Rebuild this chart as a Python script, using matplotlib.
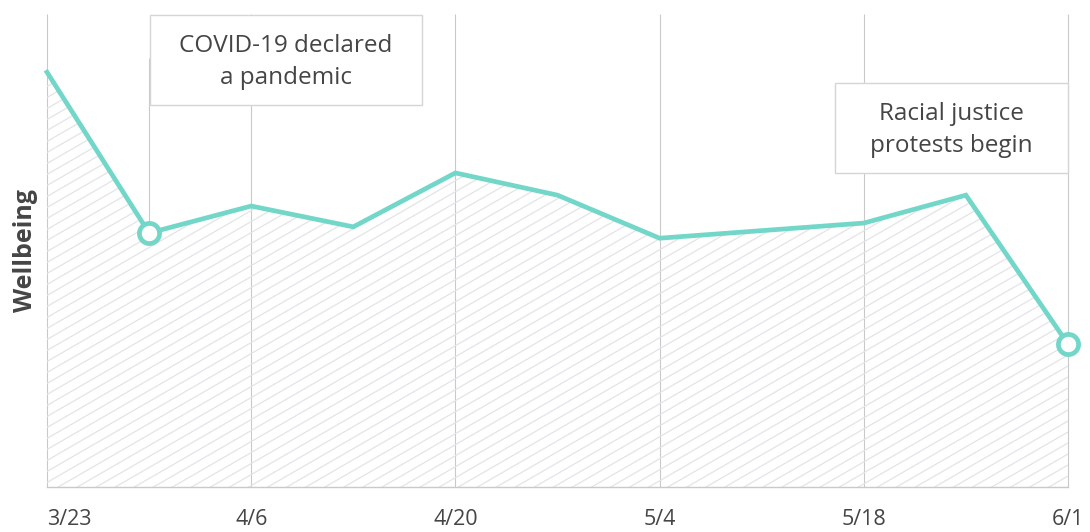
import matplotlib
matplotlib.use("Agg")
import matplotlib.pyplot as plt
import matplotlib.dates as mdates
import numpy as np
import pandas as pd
from matplotlib.collections import LineCollection
from matplotlib.patches import Rectangle
from matplotlib.transforms import IdentityTransform

# Weekly wellbeing index
dates = ["2020-03-23", "2020-03-30", "2020-04-06", "2020-04-13", "2020-04-20",
         "2020-04-27", "2020-05-04", "2020-05-18", "2020-05-25", "2020-06-01"]
wellbeing = [87.7, 53.7, 59.4, 55.0, 66.4, 61.7, 52.6, 55.8, 61.7, 30.2]

tick_dates = ["2020-03-23", "2020-04-06", "2020-04-20", "2020-05-04", "2020-05-18", "2020-06-01"]
tick_labels = ["3/23", "4/6", "4/20", "5/4", "5/18", "6/1"]

event_dates = ["2020-03-30", "2020-06-01"]
event_labels = ["COVID-19 declared\na pandemic", "Racial justice\nprotests begin"]

FONT = "Open Sans"
TEXT = "#454545"
GRID = "#c9c9c9"
LINE = "#72d7c8"
HATCH = "#e4e4e8"

plt.rcParams["font.family"] = [FONT, "DejaVu Sans"]

fig = plt.figure(figsize=(10.9, 5.32), dpi=100)
ax = fig.add_axes([47 / 1090, 45 / 532, 1021 / 1090, 473 / 532])

xn = mdates.date2num(pd.to_datetime(dates))
tn = mdates.date2num(pd.to_datetime(tick_dates))
en = mdates.date2num(pd.to_datetime(event_dates))
y = np.array(wellbeing)

ax.set_xlim(tn[0], tn[-1])
ax.set_ylim(0, 100)

for s in ax.spines.values():
    s.set_visible(False)
ax.spines["bottom"].set_visible(True)
ax.spines["bottom"].set_color(GRID)
ax.spines["bottom"].set_linewidth(1.0)

# vertical guides at each labelled week
ax.vlines(tn, 0, 100, color=GRID, lw=0.8, zorder=1, clip_on=False)

# area under the curve, filled with thin diagonal hatching
area = ax.fill_between(xn, y, 0, facecolor="none", edgecolor="none", zorder=1)
fig.canvas.draw()
bb = ax.bbox
slope = np.tan(np.radians(30))
step = 11.0
segs = []
c = bb.y0 - slope * bb.x1
while c < bb.y1 - slope * bb.x0:
    segs.append([(bb.x0, c + slope * bb.x0), (bb.x1, c + slope * bb.x1)])
    c += step
hatch = LineCollection(segs, colors=HATCH, linewidths=0.9, transform=IdentityTransform(), zorder=1.5)
hatch.set_clip_path(area.get_paths()[0], ax.transData)
ax.add_collection(hatch, autolim=False)

# main line
ax.plot(xn, y, color=LINE, lw=3.4, solid_joinstyle="miter", zorder=4, clip_on=False)

# event markers and callouts
ev_y = np.array([y[list(xn).index(e)] for e in en])
ax.vlines(en[0], ev_y[0], 90.7, color=GRID, lw=0.8, zorder=2)
ax.plot(en, ev_y, "o", ms=14.5, mew=3.4, mec=LINE, mfc="white", zorder=5, clip_on=False)

boxes = [(0.1009, 0.808, 0.2664, 0.190), (0.772, 0.664, 0.228, 0.190)]
for (bx, by, bw, bh), label in zip(boxes, event_labels):
    ax.add_patch(Rectangle((bx, by), bw, bh, transform=ax.transAxes, facecolor="white",
                           edgecolor="#d5d5d5", lw=1.0, zorder=3, clip_on=False))
    ax.text(bx + bw / 2, by + bh / 2 - 0.004, label, transform=ax.transAxes, ha="center",
            va="center", fontsize=17.5, color=TEXT, linespacing=1.45, zorder=6)

ax.set_yticks([])
ax.set_xticks(tn)
ax.set_xticklabels(tick_labels, fontsize=15.5, color=TEXT)
ax.tick_params(axis="x", length=0, pad=16)
ax.get_xticklabels()[0].set_horizontalalignment("left")

fig.text(26 / 1090, 1 - 251 / 532, "Wellbeing", rotation=90, ha="center", va="center",
         fontsize=18, fontweight="bold", color=TEXT)

fig.savefig("out.png", dpi=100, facecolor="white")
